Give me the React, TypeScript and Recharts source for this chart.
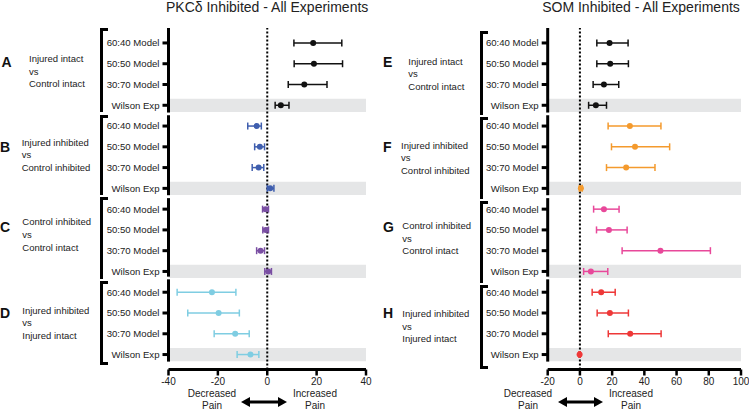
import React from 'react';
import {
  ScatterChart,
  Scatter,
  XAxis,
  YAxis,
  ErrorBar,
  ReferenceLine,
  ReferenceArea,
} from 'recharts';

/* ── Data ─────────────────────────────────────────────────── */
const ROW_LABELS = ['60:40 Model', '50:50 Model', '30:70 Model', 'Wilson Exp'];

// PKCδ inhibited (left panel)
const pkcA_mean = [18.6, 18.9, 15.0, 5.5];
const pkcA_low = [10.8, 10.9, 8.5, 3.2];
const pkcA_high = [30.2, 30.5, 24.2, 8.8];

const pkcB_mean = [-4.3, -3.0, -3.5, 1.2];
const pkcB_low = [-7.9, -5.1, -6.1, 0.0];
const pkcB_high = [-2.4, -1.1, -1.4, 2.7];

const pkcC_mean = [-0.7, -0.6, -2.7, 0.4];
const pkcC_low = [-1.9, -1.8, -4.3, -1.0];
const pkcC_high = [0.5, 0.5, -1.1, 1.7];

const pkcD_mean = [-22.4, -19.7, -13.0, -6.8];
const pkcD_low = [-36.5, -32.2, -21.5, -12.2];
const pkcD_high = [-12.7, -11.3, -7.3, -3.4];

// SOM inhibited (right panel)
const somE_mean = [18.4, 18.8, 14.9, 9.9];
const somE_low = [10.5, 10.5, 8.2, 5.4];
const somE_high = [29.9, 30.1, 24.1, 16.5];

const somF_mean = [31.0, 34.2, 28.7, 0.6];
const somF_low = [17.5, 19.6, 16.5, -0.3];
const somF_high = [50.3, 55.7, 46.6, 1.4];

const somG_mean = [14.9, 18.0, 50.0, 6.8];
const somG_low = [8.5, 10.3, 26.2, 2.3];
const somG_high = [24.3, 29.3, 81.0, 17.3];

const somH_mean = [13.2, 18.6, 31.2, -0.2];
const somH_low = [7.6, 10.7, 17.6, -0.6];
const somH_high = [21.9, 30.1, 50.4, 0.2];

const PKC_TICKS = [-40, -20, 0, 20, 40];
const SOM_TICKS = [-20, 0, 20, 40, 60, 80, 100];

/* ── Design tokens ────────────────────────────────────────── */
const FONT = "'Liberation Sans', Arial, Helvetica, sans-serif";
const COLORS = {
  black: '#111111',
  blue: '#3f5eae',
  purple: '#7a4fa3',
  lightBlue: '#7fcde2',
  orange: '#f49a2d',
  pink: '#e8489a',
  red: '#ee3838',
  band: '#e5e6e7',
};

interface Group {
  letter: string;
  lines: string[];
  color: string;
  mean: number[];
  low: number[];
  high: number[];
}

const PKC_GROUPS: Group[] = [
  { letter: 'A', lines: ['Injured intact', 'vs', 'Control intact'], color: COLORS.black, mean: pkcA_mean, low: pkcA_low, high: pkcA_high },
  { letter: 'B', lines: ['Injured inhibited', 'vs', 'Control inhibited'], color: COLORS.blue, mean: pkcB_mean, low: pkcB_low, high: pkcB_high },
  { letter: 'C', lines: ['Control inhibited', 'vs', 'Control intact'], color: COLORS.purple, mean: pkcC_mean, low: pkcC_low, high: pkcC_high },
  { letter: 'D', lines: ['Injured inhibited', 'vs', 'Injured intact'], color: COLORS.lightBlue, mean: pkcD_mean, low: pkcD_low, high: pkcD_high },
];

const SOM_GROUPS: Group[] = [
  { letter: 'E', lines: ['Injured intact', 'vs', 'Control intact'], color: COLORS.black, mean: somE_mean, low: somE_low, high: somE_high },
  { letter: 'F', lines: ['Injured inhibited', 'vs', 'Control inhibited'], color: COLORS.orange, mean: somF_mean, low: somF_low, high: somF_high },
  { letter: 'G', lines: ['Control inhibited', 'vs', 'Control intact'], color: COLORS.pink, mean: somG_mean, low: somG_low, high: somG_high },
  { letter: 'H', lines: ['Injured inhibited', 'vs', 'Injured intact'], color: COLORS.red, mean: somH_mean, low: somH_low, high: somH_high },
];

// y-axis segments per group (row units), Prism-style broken axis
const AXIS_SEGMENTS: [number, number][] = [
  [-0.72, 3.35],
  [3.48, 7.33],
  [7.47, 11.25],
  [11.38, 15.34],
];

const Y_DOMAIN: [number, number] = [-0.72, 15.72];
const ROW_TICKS = Array.from({ length: 16 }, (_, i) => i);

const toRows = (g: Group, gi: number) =>
  g.mean.map((m, i) => ({
    x: m,
    y: gi * 4 + i,
    err: [m - g.low[i], g.high[i] - m],
  }));

/* ── Panel ────────────────────────────────────────────────── */
interface PanelProps {
  groups: Group[];
  domain: [number, number];
  ticks: number[];
  width: number;
  yAxisWidth: number;
  marginRight: number;
}

const Panel: React.FC<PanelProps> = ({ groups, domain, ticks, width, yAxisWidth, marginRight }) => (
  <ScatterChart
    width={width}
    height={411}
    margin={{ top: 28, right: marginRight, bottom: 11.5, left: 0 }}
  >
    {groups.map((_, gi) => (
      <ReferenceArea
        key={`band-${gi}`}
        x1={domain[0]}
        x2={domain[1]}
        y1={gi * 4 + 3 - 0.32}
        y2={gi * 4 + 3 + 0.32}
        fill={COLORS.band}
        fillOpacity={1}
        stroke="none"
      />
    ))}
    <XAxis
      type="number"
      dataKey="x"
      domain={domain}
      ticks={ticks}
      allowDataOverflow
      height={30}
      tickSize={6}
      tickMargin={2}
      axisLine={{ stroke: '#000', strokeWidth: 3 }}
      tickLine={{ stroke: '#000', strokeWidth: 2.5 }}
      tick={{ fontFamily: FONT, fontSize: 10, fill: '#222' }}
    />
    <YAxis
      type="number"
      dataKey="y"
      domain={Y_DOMAIN}
      reversed
      ticks={ROW_TICKS}
      interval={0}
      allowDataOverflow
      width={yAxisWidth}
      axisLine={false}
      tickSize={6}
      tickMargin={3}
      tickLine={{ stroke: '#000', strokeWidth: 3 }}
      tick={{ fontFamily: FONT, fontSize: 9.6, fill: '#222' }}
      tickFormatter={(v: number) => ROW_LABELS[v % 4]}
    />
    {AXIS_SEGMENTS.map(([a, b], i) => (
      <ReferenceLine
        key={`seg-${i}`}
        segment={[{ x: domain[0], y: a }, { x: domain[0], y: b }]}
        stroke="#000"
        strokeWidth={3}
      />
    ))}
    <ReferenceLine x={0} stroke="#000" strokeWidth={2} strokeDasharray="2 2" />
    {groups.map((g, gi) => (
      <Scatter
        key={g.letter}
        data={toRows(g, gi)}
        fill={g.color}
        isAnimationActive={false}
        shape={(p: any) => <circle cx={p.cx} cy={p.cy} r={3} fill={g.color} />}
      >
        <ErrorBar
          dataKey="err"
          direction="x"
          width={3.5}
          stroke={g.color}
          strokeWidth={1.5}
          isAnimationActive={false}
        />
      </Scatter>
    ))}
  </ScatterChart>
);

/* ── Decorations ──────────────────────────────────────────── */
const abs = (left: number, top: number, extra: React.CSSProperties = {}): React.CSSProperties => ({
  position: 'absolute',
  left,
  top,
  fontFamily: FONT,
  color: '#222',
  whiteSpace: 'nowrap',
  ...extra,
});

const Bracket: React.FC<{ x: number; top: number; bottom: number; closeBottom?: boolean }> = ({ x, top, bottom, closeBottom }) => (
  <div
    style={{
      position: 'absolute',
      left: x,
      top,
      width: 8,
      height: bottom - top,
      borderLeft: '3px solid #000',
      borderTop: '3px solid #000',
      borderBottom: closeBottom ? '3px solid #000' : 'none',
      boxSizing: 'border-box',
    }}
  />
);

const GroupLabel: React.FC<{ letterX: number; letterY: number; textX: number; lineYs: number[]; group: Group }> = ({
  letterX,
  letterY,
  textX,
  lineYs,
  group,
}) => (
  <>
    <div style={abs(letterX, letterY - 9, { fontSize: 14, fontWeight: 700, lineHeight: '18px', color: '#111' })}>
      {group.letter}
    </div>
    {group.lines.map((t, i) => (
      <div key={i} style={abs(textX, lineYs[i] - 6, { fontSize: 9.5, lineHeight: '12px' })}>
        {t}
      </div>
    ))}
  </>
);

const Arrow: React.FC<{ x1: number; x2: number; y: number }> = ({ x1, x2, y }) => (
  <svg style={{ position: 'absolute', left: x1, top: y - 5, overflow: 'visible' }} width={x2 - x1} height={10}>
    <line x1={7} y1={5} x2={x2 - x1 - 7} y2={5} stroke="#000" strokeWidth={3} />
    <polygon points={`0,5 9,0 9,10`} fill="#000" />
    <polygon points={`${x2 - x1},5 ${x2 - x1 - 9},0 ${x2 - x1 - 9},10`} fill="#000" />
  </svg>
);

const PainLabels: React.FC<{ decX: number; incX: number; arrow: [number, number] }> = ({ decX, incX, arrow }) => (
  <>
    {[
      { x: decX, word: 'Decreased' },
      { x: incX, word: 'Increased' },
    ].map((l) => (
      <div key={l.word} style={abs(l.x - 40, 388, { width: 80, textAlign: 'center', fontSize: 10, lineHeight: '12px' })}>
        {l.word}
        <br />
        Pain
      </div>
    ))}
    <Arrow x1={arrow[0]} x2={arrow[1]} y={402} />
  </>
);

/* ── App ──────────────────────────────────────────────────── */
export default function App() {
  return (
    <div
      style={{
        position: 'absolute',
        left: 0,
        top: 0,
        width: 749,
        height: 411,
        background: '#fff',
        overflow: 'hidden',
        fontFamily: FONT,
      }}
    >
      {/* Titles */}
      <div style={abs(166, -1, { width: 200, textAlign: 'center', fontSize: 14, lineHeight: '17px' })}>
        PKCδ Inhibited - All Experiments
      </div>
      <div style={abs(541, -1, { width: 200, textAlign: 'center', fontSize: 14, lineHeight: '17px' })}>
        SOM Inhibited - All Experiments
      </div>

      {/* Charts */}
      <div style={{ position: 'absolute', left: 0, top: 0 }}>
        <Panel groups={PKC_GROUPS} domain={[-40, 40]} ticks={PKC_TICKS} width={380} yAxisWidth={168.5} marginRight={14} />
      </div>
      <div style={{ position: 'absolute', left: 380, top: 0 }}>
        <Panel groups={SOM_GROUPS} domain={[-20, 100]} ticks={SOM_TICKS} width={369} yAxisWidth={167.7} marginRight={8} />
      </div>

      {/* Brackets */}
      <Bracket x={100} top={27.5} bottom={112} />
      <Bracket x={100} top={114.5} bottom={195} />
      <Bracket x={100} top={197} bottom={278.5} />
      <Bracket x={100} top={280.5} bottom={365} closeBottom />
      <Bracket x={479.5} top={30.5} bottom={115} />
      <Bracket x={479.5} top={117} bottom={198.5} />
      <Bracket x={479.5} top={200.5} bottom={283} />
      <Bracket x={479.5} top={285} bottom={369} closeBottom />

      {/* Group labels */}
      <GroupLabel group={PKC_GROUPS[0]} letterX={1.5} letterY={61.7} textX={29} lineYs={[59, 71.7, 83.5]} />
      <GroupLabel group={PKC_GROUPS[1]} letterX={0} letterY={146.7} textX={21.7} lineYs={[142.7, 155.2, 167.7]} />
      <GroupLabel group={PKC_GROUPS[2]} letterX={0} letterY={226.7} textX={22.3} lineYs={[222.3, 235, 247.7]} />
      <GroupLabel group={PKC_GROUPS[3]} letterX={0} letterY={312.7} textX={22.3} lineYs={[310.7, 323.2, 335.7]} />
      <GroupLabel group={SOM_GROUPS[0]} letterX={383} letterY={61.7} textX={408.3} lineYs={[61.7, 74.2, 86.7]} />
      <GroupLabel group={SOM_GROUPS[1]} letterX={383} letterY={146.7} textX={401} lineYs={[145.7, 158.3, 171]} />
      <GroupLabel group={SOM_GROUPS[2]} letterX={383} letterY={226.7} textX={402.3} lineYs={[226, 238.7, 251]} />
      <GroupLabel group={SOM_GROUPS[3]} letterX={383} letterY={313} textX={402.3} lineYs={[314.3, 326.7, 339.3]} />

      {/* Bottom annotations */}
      <PainLabels decX={212} incX={315} arrow={[240.7, 286.7]} />
      <PainLabels decX={528} incX={631} arrow={[558, 603]} />
    </div>
  );
}
